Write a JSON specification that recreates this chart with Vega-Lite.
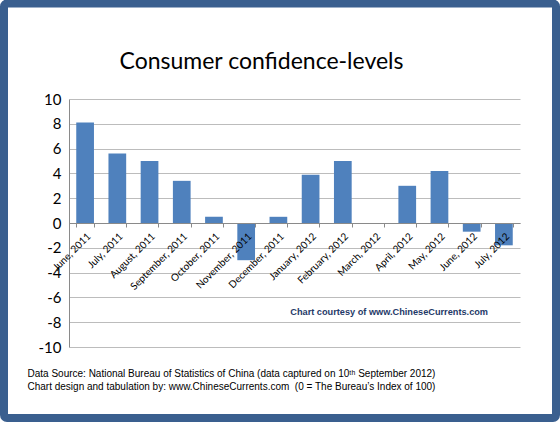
{
  "$schema": "https://vega.github.io/schema/vega-lite/v6.json",
  "width": 451,
  "height": 248,
  "autosize": {"type": "none"},
  "padding": {"left": 69, "top": 99, "right": 40, "bottom": 75},
  "background": "white",
  "title": {
    "text": "Consumer confidence-levels",
    "font": "Lato",
    "fontSize": 23,
    "fontWeight": "normal",
    "color": "black",
    "anchor": "middle",
    "baseline": "alphabetic",
    "offset": -92,
    "dx": -33
  },
  "config": {
    "view": {"stroke": null},
    "axis": {"gridColor": "#bcbcbc", "domainColor": "#8a8a8a", "tickColor": "#8a8a8a"}
  },
  "data": {
    "values": [
      {"month": "June, 2011", "value": 8.1},
      {"month": "July, 2011", "value": 5.6},
      {"month": "August, 2011", "value": 5.0},
      {"month": "September, 2011", "value": 3.4},
      {"month": "October, 2011", "value": 0.5},
      {"month": "November, 2011", "value": -3.0},
      {"month": "December, 2011", "value": 0.5},
      {"month": "January, 2012", "value": 3.9},
      {"month": "February, 2012", "value": 5.0},
      {"month": "March, 2012", "value": 0},
      {"month": "April, 2012", "value": 3.0},
      {"month": "May, 2012", "value": 4.2},
      {"month": "June, 2012", "value": -0.7},
      {"month": "July, 2012", "value": -1.8}
    ]
  },
  "layer": [
    {
      "mark": {"type": "bar", "color": "#4F81BD"},
      "encoding": {
        "x": {
          "field": "month",
          "type": "nominal",
          "sort": null,
          "scale": {"paddingInner": 0.45, "paddingOuter": 0.225},
          "axis": {
            "orient": "bottom",
            "offset": -124,
            "zindex": 1,
            "labelAngle": -45,
            "labelFont": "Lato",
            "labelFontSize": 10,
            "labelColor": "black",
            "labelPadding": 4,
            "tickBand": "extent",
            "tickSize": 4,
            "title": ["Data Source: National Bureau of Statistics of China (data captured on 10ᵗʰ September 2012)", "Chart design and tabulation by: www.ChineseCurrents.com\u00a0\u00a0(0 = The Bureau’s Index of 100)"],
            "titleFont": "Liberation Sans",
            "titleFontSize": 10,
            "titleFontWeight": "normal",
            "titleColor": "black",
            "titleAlign": "left",
            "titleAnchor": "start",
            "titleBaseline": "alphabetic",
            "titleAngle": 0,
            "titleX": -42,
            "titleY": 153,
            "titleLineHeight": 13
          }
        },
        "y": {
          "field": "value",
          "type": "quantitative",
          "scale": {"domain": [-10, 10], "nice": false},
          "axis": {
            "values": [-10, -8, -6, -4, -2, 0, 2, 4, 6, 8, 10],
            "tickCount": 11,
            "labelOverlap": false,
            "labelExpr": "toString(datum.value)",
            "title": null,
            "ticks": false,
            "labelFont": "Lato",
            "labelFontSize": 15,
            "labelColor": "black",
            "labelPadding": 8,
            "zindex": 0,
            "domain": true
          }
        }
      }
    },
    {
      "data": {"values": [{"note": "Chart courtesy of www.ChineseCurrents.com"}]},
      "mark": {"type": "text", "align": "right", "baseline": "middle", "font": "Liberation Sans", "fontWeight": "bold", "fontSize": 9.2, "color": "#1F3A68", "dx": -7},
      "encoding": {
        "x": {"datum": "July, 2012", "bandPosition": 0},
        "y": {"datum": -7.2},
        "text": {"field": "note"}
      }
    },
    {
      "data": {"values": [{}]},
      "mark": {"type": "rect", "fill": null, "stroke": "#3A5F8F", "strokeWidth": 8, "cornerRadius": 3},
      "encoding": {
        "x": {"value": -65},
        "x2": {"value": 487},
        "y": {"value": -95.5},
        "y2": {"value": 319}
      }
    }
  ]
}
